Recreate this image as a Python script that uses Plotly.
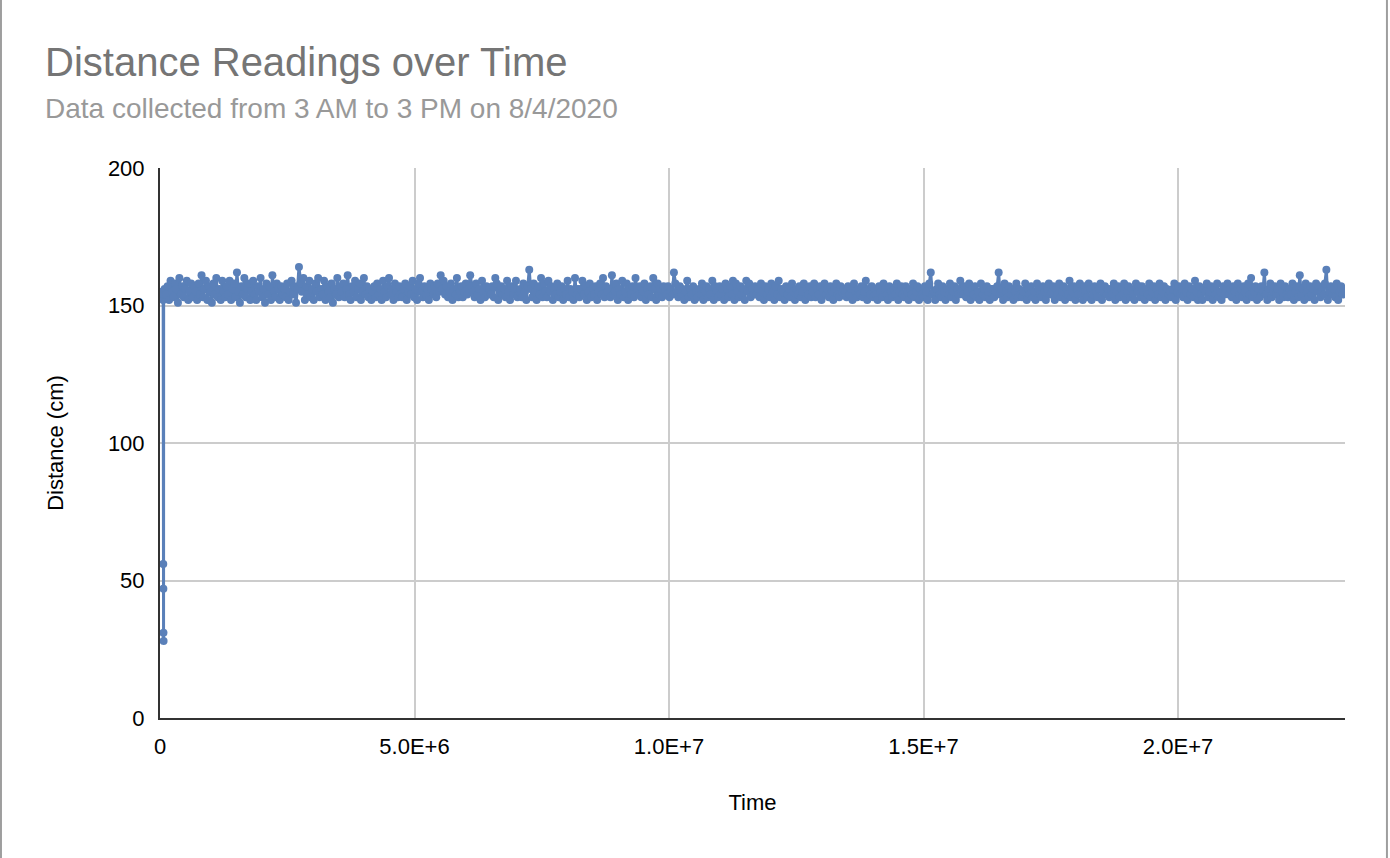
import plotly.graph_objects as go

# ---- data ----
early_time = [0, 30000, 62000, 64000, 66000, 68000, 70000, 72000, 90000]
early_dist = [153, 155, 152, 56, 47, 31, 28, 154, 156]

main_start = 120000
main_step = 29000
main_dist = [
    154,157,152,159,155,153,158,156,151,160,154,157,153,156,159,152,155,158,153,157,
    155,152,158,154,161,153,156,159,152,157,155,151,158,154,160,153,156,152,159,155,
    153,157,154,159,152,156,158,153,162,155,151,157,154,160,153,156,158,152,155,159,
    154,152,157,155,160,153,156,151,158,154,157,152,161,155,153,158,156,152,157,154,
    156,153,158,152,155,159,154,157,151,156,164,158,155,160,152,157,154,159,153,156,
    152,158,155,160,153,156,154,159,152,157,155,153,158,151,156,154,160,153,157,155,
    158,153,156,161,154,152,157,155,159,153,156,158,152,155,160,154,157,153,156,152,
    155,157,153,158,154,156,152,159,155,153,157,160,154,156,152,158,155,153,157,154,
    153,156,158,152,155,157,154,159,153,156,152,158,160,155,153,157,154,156,152,158,
    156,154,157,153,158,155,161,156,159,154,157,153,155,158,152,156,154,160,153,155,
    157,153,155,158,154,156,161,157,155,153,158,154,156,152,159,155,153,157,154,156,
    154,157,153,160,158,152,155,157,154,156,153,159,155,152,157,154,156,159,153,155,
    156,153,158,155,152,157,163,156,153,158,155,152,157,154,160,153,158,155,153,159,
    155,157,152,156,154,158,153,155,157,152,156,154,159,153,156,155,152,160,154,156,
    153,156,159,154,157,152,155,158,153,156,154,157,152,155,158,154,160,153,157,155,
    156,153,161,154,155,158,152,156,154,159,153,155,158,152,156,154,157,153,160,156,
    154,157,153,155,158,152,156,154,157,153,160,156,152,158,154,156,153,157,155,154,
    157,153,156,154,162,158,155,153,157,154,156,152,155,159,153,156,154,157,152,155,
    153,156,154,158,152,155,157,153,156,154,159,152,157,155,153,157,154,156,152,158,
    156,153,157,154,159,152,158,155,153,157,154,156,152,159,155,158,153,156,154,157,
    154,156,153,158,155,152,157,154,156,153,158,155,152,157,154,159,153,156,155,152,
    157,154,156,153,158,155,152,156,154,157,153,155,158,152,156,154,157,153,155,158,
    153,156,154,157,152,155,158,154,156,153,157,155,152,156,158,154,153,157,155,156,
    155,153,157,154,156,152,158,155,153,156,154,157,153,155,159,152,156,154,157,153,
    156,154,152,157,155,153,158,156,154,152,157,155,153,156,154,158,152,155,157,154,
    153,157,155,152,156,154,158,153,155,157,152,156,154,153,157,155,152,158,162,154,
    155,152,156,158,154,153,157,155,152,156,154,158,153,155,157,152,156,154,159,155,
    154,157,153,155,158,152,156,154,157,153,155,152,158,154,156,153,157,155,152,156,
    156,153,155,157,162,154,156,152,158,155,153,157,154,156,152,155,158,153,156,154,
    153,155,158,152,156,154,157,153,155,152,158,156,154,153,157,155,152,156,158,154,
    155,157,152,156,154,158,153,155,157,152,156,154,159,153,155,157,152,156,154,158,
    154,152,157,155,153,158,156,152,154,157,155,153,156,158,152,155,157,154,156,153,
    156,154,158,152,155,157,153,156,154,158,152,155,157,153,156,154,152,158,155,157,
    153,157,155,152,156,154,158,153,155,157,152,156,154,158,153,155,157,152,156,154,
    155,153,156,158,152,155,157,154,156,153,158,155,152,157,154,156,153,159,155,152,
    157,154,152,156,155,158,153,155,157,152,156,154,158,153,155,152,157,154,156,158,
    154,156,153,157,155,152,158,154,156,153,157,155,152,158,154,160,153,155,157,152,
    156,153,157,155,162,154,152,156,158,153,155,157,154,156,152,158,155,153,157,154,
    153,156,154,158,152,155,157,153,161,154,156,152,158,155,153,157,154,156,152,158,
    155,157,153,156,154,158,163,152,155,157,154,156,153,158,152,155,157,154,156,155,
]
main_time = [main_start + i * main_step for i in range(len(main_dist))]

time = early_time + main_time
distance = early_dist + main_dist

x_tick_vals = [0, 5e6, 1e7, 1.5e7, 2e7]
x_tick_text = ["0", "5.0E+6", "1.0E+7", "1.5E+7", "2.0E+7"]
y_tick_vals = [0, 50, 100, 150, 200]

FONT = "Liberation Sans, Arial, sans-serif"
BLUE = "#5a80b9"

fig = go.Figure()
fig.add_trace(go.Scatter(
    x=time, y=distance, mode="lines+markers",
    line=dict(color=BLUE, width=3),
    marker=dict(color=BLUE, size=8),
    showlegend=False,
))

fig.update_layout(
    width=1390, height=858,
    margin=dict(l=160, r=45, t=168, b=140),
    paper_bgcolor="white", plot_bgcolor="white",
    font=dict(family=FONT, size=22, color="#000000"),
    annotations=[
        dict(text="Distance Readings over Time", xref="paper", yref="paper",
             x=-0.0987, y=1.1927, xanchor="left", yanchor="middle", showarrow=False,
             font=dict(family=FONT, size=40, color="#757575")),
        dict(text="Data collected from 3 AM to 3 PM on 8/4/2020", xref="paper", yref="paper",
             x=-0.0987, y=1.109, xanchor="left", yanchor="middle", showarrow=False,
             font=dict(family=FONT, size=28, color="#999999")),
    ],
    shapes=[
        dict(type="line", xref="paper", yref="paper", x0=-0.1342, x1=-0.1342, y0=-0.3, y1=1.4,
             line=dict(color="#9e9e9e", width=2)),
        dict(type="line", xref="paper", yref="paper", x0=1.0354, x1=1.0354, y0=-0.3, y1=1.4,
             line=dict(color="#9e9e9e", width=2)),
    ],
)

fig.update_xaxes(
    range=[0, 2.328e7], tickvals=x_tick_vals, ticktext=x_tick_text,
    showgrid=True, gridcolor="#cccccc", gridwidth=1.5,
    showline=True, linecolor="#333333", linewidth=2, zeroline=False,
    ticks="", ticklabelstandoff=8,
    title=dict(text="Time", font=dict(family=FONT, size=22), standoff=36),
)
fig.update_yaxes(
    range=[0, 200], tickvals=y_tick_vals,
    showgrid=True, gridcolor="#cccccc", gridwidth=1.5,
    showline=True, linecolor="#333333", linewidth=2, zeroline=False,
    ticks="", ticklabelstandoff=9,
    title=dict(text="Distance (cm)", font=dict(family=FONT, size=22), standoff=38),
)

fig.write_html(
    "out.html",
    config={"displayModeBar": False},
    post_script="document.body.style.margin='0';document.body.style.overflow='hidden';",
)
